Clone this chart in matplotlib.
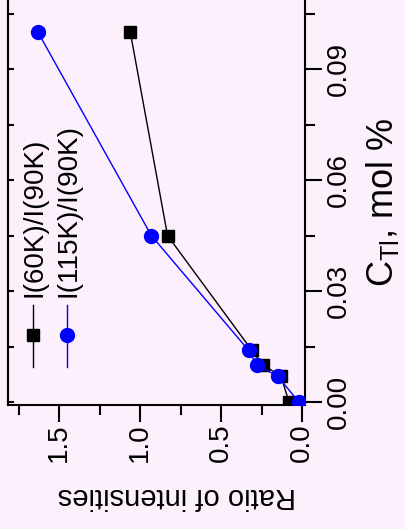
import matplotlib
matplotlib.use('Agg')
import matplotlib.pyplot as plt
from matplotlib.ticker import MultipleLocator

plt.rcParams['font.family'] = ['Liberation Sans', 'DejaVu Sans']

conc = [0.0, 0.007, 0.010, 0.014, 0.045, 0.100]
ratio_60 = [0.08, 0.13, 0.24, 0.31, 0.83, 1.06]
ratio_115 = [0.02, 0.15, 0.28, 0.33, 0.93, 1.63]
labels = ['I(60K)/I(90K)', 'I(115K)/I(90K)']

bg = '#fcf0fc'
fig = plt.figure(figsize=(4.06, 5.29), dpi=100, facecolor=bg)
ax = fig.add_axes([8/406, 1-405/529, 297/406, 405/529], facecolor=bg)

# plot is drawn turned by 90 degrees: ratio runs leftwards, concentration upwards
ax.plot(ratio_60, conc, color='black', lw=1.0, marker='s', ms=8.5, zorder=3)
ax.plot(ratio_115, conc, color='blue', lw=1.0, marker='o', ms=10, zorder=4)

ax.set_xlim(1.815, -0.0185)
ax.set_ylim(-0.0008, 0.1087)

ax.xaxis.set_major_locator(MultipleLocator(0.5))
ax.xaxis.set_minor_locator(MultipleLocator(0.25))
ax.yaxis.set_major_locator(MultipleLocator(0.03))
ax.yaxis.set_minor_locator(MultipleLocator(0.015))
ax.xaxis.set_major_formatter('{x:.1f}')
ax.yaxis.set_major_formatter('{x:.2f}')

ax.yaxis.tick_right()
ax.yaxis.set_label_position('right')
ax.tick_params(which='major', length=12, width=1.5, labelsize=20, pad=1.5)
ax.tick_params(which='minor', length=7, width=1.5)
ax.tick_params(axis='x', labelrotation=90)
ax.tick_params(axis='y', labelrotation=90, pad=3)
for lab in ax.get_yticklabels():
    lab.set_va('center')

for s in ['left', 'right', 'bottom']:
    ax.spines[s].set_linewidth(1.5)
ax.spines['top'].set_visible(False)

sec = ax.secondary_yaxis('left')
sec.yaxis.set_major_locator(MultipleLocator(0.015))
sec.tick_params(direction='in', length=4, width=1.5, labelleft=False)
sec.spines['left'].set_linewidth(1.5)

ax.set_ylabel(r'C$_{\mathregular{Tl}}$, mol %', fontsize=26, rotation=90)
ax.yaxis.set_label_coords(1.2, 0.5)
ax.set_xlabel('Ratio of intensities', fontsize=21, rotation=180)
ax.xaxis.set_label_coords(0.569, -0.19)

# legend, turned like the rest of the plot
for i, (lab, col, mk, ms) in enumerate(zip(labels, ['black', 'blue'], ['s', 'o'], [8.5, 10])):
    xa = (33 + 34*i - 8) / 297
    ax.plot([xa, xa], [(405-367)/405, (405-305)/405], color=col, lw=1.0,
            transform=ax.transAxes, clip_on=False)
    ax.plot([xa], [(405-335)/405], color=col, marker=mk, ms=ms,
            transform=ax.transAxes, clip_on=False)
    ax.text(xa + 2/297, (405-297)/405, lab, rotation=90, fontsize=20, color='black',
            ha='center', va='bottom', transform=ax.transAxes)

fig.savefig('out.png', dpi=100, facecolor=bg)
